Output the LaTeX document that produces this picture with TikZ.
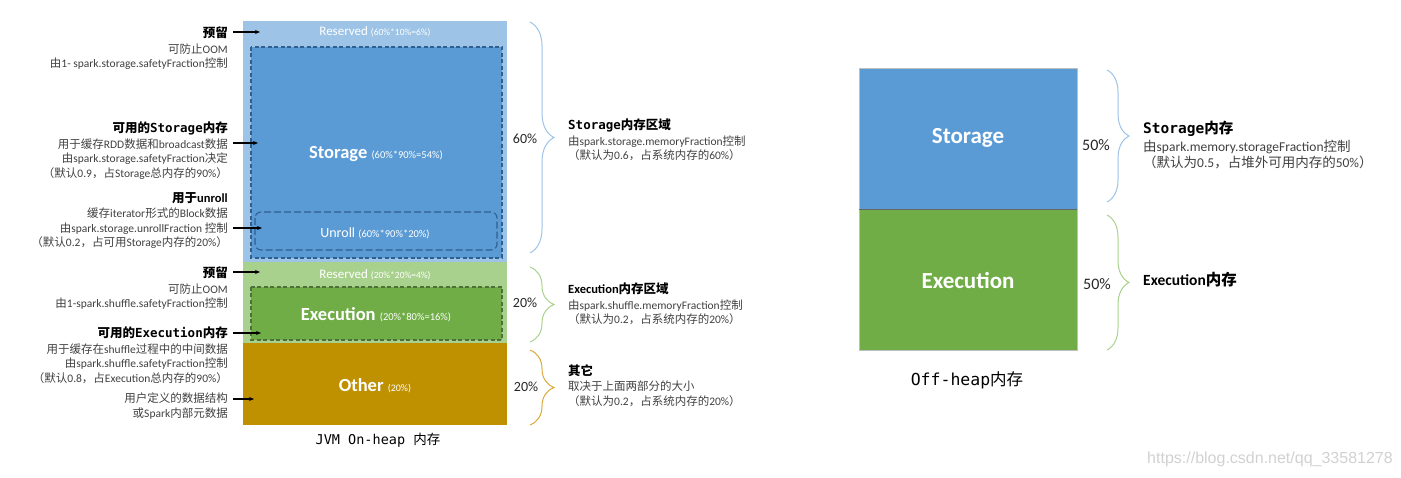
\documentclass[tikz,border=0pt]{standalone}
\usepackage{fontspec}
\setmainfont{Carlito}
\newfontfamily\cjk{Noto Sans CJK SC}
\newfontfamily\monof{DejaVu Sans Mono}
\newfontfamily\urlfont{Liberation Sans}
\usetikzlibrary{arrows.meta,calc,decorations.pathreplacing}
\definecolor{resblue}{HTML}{9DC3E6}
\definecolor{stoblue}{HTML}{5B9BD5}
\definecolor{dashblue}{HTML}{2F5F8F}
\definecolor{resgreen}{HTML}{A9D18E}
\definecolor{exgreen}{HTML}{70AD47}
\definecolor{dashgreen}{HTML}{4E6E3A}
\definecolor{othgold}{HTML}{BF9000}
\definecolor{bracegold}{HTML}{D9A93A}
\definecolor{txtgray}{HTML}{404040}
\newcommand{\zh}[1]{{\cjk #1}}
\newcommand{\mo}[1]{{\monof #1}}
\newcommand{\fsz}[1]{\fontsize{#1}{#1}\selectfont}
\newcommand{\ttl}[1]{{\fsz{12.5}\bfseries\color{black}#1}}
\begin{document}
\begin{tikzpicture}[x=1pt, y=-1pt,
    lnote/.style={anchor=north east, align=right, inner sep=0pt, text=txtgray,
        font=\fontsize{11.5}{14.5}\selectfont},
    rnote/.style={anchor=north west, align=left, inner sep=0pt, text=txtgray,
        font=\fontsize{11.5}{14.5}\selectfont},
    pointer/.style={-{Stealth[length=5pt,width=4pt]}, line width=1.1pt},
    dashbox/.style={line width=1.1pt, dash pattern=on 4pt off 2.5pt},
    rbrace/.style={decorate, decoration={brace, amplitude=#1}, line width=1pt},
    rbrace/.default=24pt,
    inlbl/.style={text=white, inner sep=0pt},
    pct/.style={font=\fsz{14}, text=black!85}]
    \useasboundingbox (0,0) rectangle (1401,478);
    % On-heap column
    \fill[resblue] (243,21) rectangle (507,262);
    \fill[resgreen] (243,262) rectangle (507,343);
    \fill[othgold] (243,343) rectangle (507,425);
    \draw[dashbox, draw=dashblue, fill=stoblue] (251,47) rectangle (502,258);
    \draw[dashbox, draw=dashblue, dash pattern=on 7pt off 3pt, rounded corners=6pt] (255,212) rectangle (497,250);
    \draw[dashbox, draw=dashgreen, fill=exgreen] (251,287) rectangle (502,340);
    % Labels inside the column
    \node[inlbl] (resvlbl) at (375,32) {\fsz{13}Reserved {\fsz{9.5}(60\%*10\%=6\%)}};
    \node[inlbl] (stolbl) at (376,154) {\fsz{18.5}\bfseries Storage {\mdseries\fsz{10.5}(60\%*90\%=54\%)}};
    \node[inlbl] (unrlbl) at (375,233) {\fsz{14}Unroll {\fsz{10.5}(60\%*90\%*20\%)}};
    \node[inlbl] (shflbl) at (375,275) {\fsz{13}Reserved {\fsz{9.5}(20\%*20\%=4\%)}};
    \node[inlbl] (exelbl) at (376,315) {\fsz{18.5}\bfseries Execution {\mdseries\fsz{10.5}(20\%*80\%=16\%)}};
    \node[inlbl] (othlbl) at (375,386) {\fsz{18.5}\bfseries Other {\mdseries\fsz{10}(20\%)}};
    \node (onheap) at (378,440) {\fsz{13.5}\monof JVM On-heap \zh{内存}};
    % Left notes
    \node[lnote] (n-resv) at (228,26) {\ttl{\zh{预留}}\\[1.5pt]
        \zh{可防止}OOM\\
        \zh{由}1- spark.storage.safetyFraction\zh{控制}};
    \node[lnote] (n-sto) at (228,122) {\ttl{\zh{可用的}\mo{Storage}\zh{内存}}\\[1pt]
        \zh{用于缓存}RDD\zh{数据和}broadcast\zh{数据}\\
        \zh{由}spark.storage.safetyFraction\zh{决定}\\
        \zh{（默认}0.9\zh{，占}Storage\zh{总内存的}90\%\zh{）}};
    \node[lnote] (n-unr) at (228,192) {\ttl{\zh{用于}unroll}\\[1pt]
        \zh{缓存}iterator\zh{形式的}Block\zh{数据}\\
        \zh{由}spark.storage.unrollFraction \zh{控制}\\
        \zh{（默认}0.2\zh{，占可用}Storage\zh{内存的}20\%\zh{）}};
    \node[lnote] (n-shf) at (228,266) {\ttl{\zh{预留}}\\[1.5pt]
        \zh{可防止}OOM\\
        \zh{由}1-spark.shuffle.safetyFraction\zh{控制}};
    \node[lnote] (n-exe) at (228,327) {\ttl{\zh{可用的}\mo{Execution}\zh{内存}}\\[1pt]
        \zh{用于缓存在}shuffle\zh{过程中的中间数据}\\
        \zh{由}spark.shuffle.safetyFraction\zh{控制}\\
        \zh{（默认}0.8\zh{，占}Execution\zh{总内存的}90\%\zh{）}};
    \node[lnote] (n-oth) at (228,393) {\zh{用户定义的数据结构}\\
        \zh{或}Spark\zh{内部元数据}};
    % Arrows into the column
    \coordinate (t-resv) at (260,32);
    \coordinate (t-sto) at (258,143);
    \coordinate (t-unr) at (262,228);
    \coordinate (t-shf) at (260,272);
    \coordinate (t-exe) at (261,333);
    \coordinate (t-oth) at (254,399);
    \foreach \n in {resv,sto,unr,shf,exe,oth}
        \draw[pointer] ($(n-\n.north east |- t-\n)+(5,0)$) -- (t-\n);
    % Braces and shares
    \draw[rbrace, resblue] (530,22) -- (530,253);
    \draw[rbrace, resgreen] (530,267) -- (530,342);
    \draw[rbrace, bracegold] (530,350) -- (530,425);
    \node[pct] (p-sto) at (525,139) {60\%};
    \node[pct] (p-exe) at (525,303) {20\%};
    \node[pct] (p-oth) at (526,387) {20\%};
    % Right notes
    \node[rnote] (a-sto) at (568,119) {\ttl{\mo{Storage}\zh{内存区域}}\\[1pt]
        \zh{由}spark.storage.memoryFraction\zh{控制}\\
        \zh{（默认为}0.6\zh{，占系统内存的}60\%\zh{）}};
    \node[rnote] (a-exe) at (568,283) {\ttl{Execution\zh{内存区域}}\\[1pt]
        \zh{由}spark.shuffle.memoryFraction\zh{控制}\\
        \zh{（默认为}0.2\zh{，占系统内存的}20\%\zh{）}};
    \node[rnote] (a-oth) at (568,364) {\ttl{\zh{其它}}\\[1pt]
        \zh{取决于上面两部分的大小}\\
        \zh{（默认为}0.2\zh{，占系统内存的}20\%\zh{）}};
    % Off-heap column
    \fill[stoblue] (859,68) rectangle (1077,209);
    \fill[exgreen] (859,209) rectangle (1077,350);
    \draw[black!25] (859,68) rectangle (1077,350);
    \draw[black!60, line width=0.8pt] (859,209) -- (1077,209);
    \node[inlbl] (offsto) at (968,138) {\fsz{23}\bfseries Storage};
    \node[inlbl] (offexe) at (968,280) {\fsz{23}\bfseries Execution};
    \node (offheap) at (967,380) {\fsz{16.5}\monof Off-heap\zh{内存}};
    \draw[rbrace=22pt, resblue] (1107,70) -- (1107,202);
    \draw[rbrace=22pt, resgreen] (1107,215) -- (1107,350);
    \node[pct, font=\fsz{16}] (p-offsto) at (1096,145) {50\%};
    \node[pct, font=\fsz{16}] (p-offexe) at (1097,284) {50\%};
    \node[rnote, font=\fontsize{13.5}{16}\selectfont] (a-offsto) at (1143,121)
        {{\fsz{14.5}\bfseries\color{black}\mo{Storage}\zh{内存}}\\[2pt]
        \zh{由}spark.memory.storageFraction\zh{控制}\\
        \zh{（默认为}0.5\zh{，占堆外可用内存的}50\%\zh{）}};
    \node[anchor=west, inner sep=0pt] (a-offexe) at (1143,280) {\fsz{15.5}\bfseries Execution\zh{内存}};
    % Watermark
    \node[text=black!18] (mark) at (1270,459) {\urlfont\fsz{16}https://blog.csdn.net/qq\_33581278};
\end{tikzpicture}
\end{document}
